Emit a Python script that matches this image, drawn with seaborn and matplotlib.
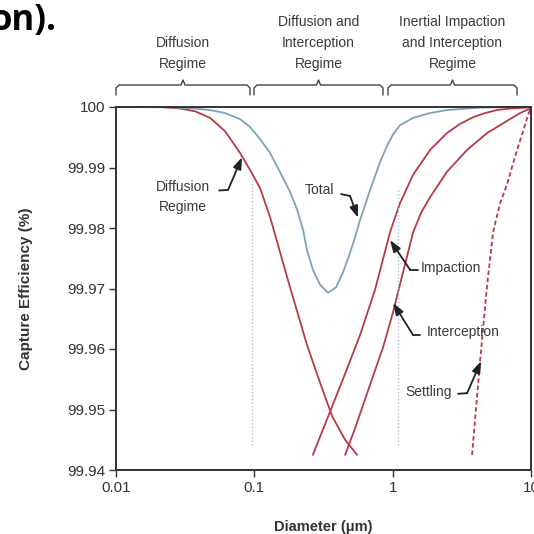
import numpy as np
import pandas as pd
import matplotlib
matplotlib.use("Agg")
import matplotlib.pyplot as plt
from matplotlib.lines import Line2D
from matplotlib.ticker import NullLocator
import seaborn as sns

# Curve values (diameter in um, capture efficiency in %)
diff_d = [0.01, 0.0208, 0.0290, 0.0372, 0.0479, 0.0614, 0.0789, 0.0931, 0.110, 0.130,
          0.175, 0.240, 0.299, 0.365, 0.453, 0.553]
diff_e = [100.0, 100.0, 99.99975, 99.9993, 99.9982, 99.9960, 99.9924, 99.9896, 99.9866,
          99.9818, 99.9714, 99.9607, 99.9544, 99.9489, 99.9450, 99.9425]

total_d = [0.01, 0.0245, 0.0343, 0.0479, 0.0614, 0.0789, 0.0931, 0.110, 0.130, 0.153,
           0.181, 0.204, 0.225, 0.240, 0.265, 0.299, 0.341, 0.390, 0.438, 0.492, 0.535,
           0.581, 0.687, 0.811, 0.912, 1.007, 1.130, 1.406, 1.864, 2.47, 4.28, 10.0]
total_e = [100.0, 99.99995, 99.9998, 99.9995, 99.9990, 99.9980, 99.9967, 99.9947, 99.9924,
           99.9893, 99.9860, 99.9830, 99.9797, 99.9764, 99.9731, 99.9706, 99.9693, 99.9702,
           99.9727, 99.9759, 99.9785, 99.9813, 99.9863, 99.9909, 99.9936, 99.9955, 99.9970,
           99.9982, 99.9990, 99.9995, 99.9999, 100.0]

imp_d = [0.265, 0.352, 0.453, 0.581, 0.746, 0.957, 1.130, 1.406, 1.864, 2.47, 3.07, 3.81,
         4.66, 5.69, 7.06, 8.77, 10.0]
imp_e = [99.9425, 99.9496, 99.9559, 99.9623, 99.9698, 99.9793, 99.9841, 99.9888, 99.9929,
         99.9957, 99.9972, 99.9983, 99.9990, 99.9995, 99.99975, 99.99987, 100.0]

int_d = [0.453, 0.535, 0.621, 0.721, 0.853, 1.007, 1.189, 1.406, 1.604, 1.864, 2.47, 3.45,
         4.82, 6.71, 8.34, 10.0]
int_e = [99.9425, 99.9469, 99.9512, 99.9555, 99.9603, 99.9661, 99.9727, 99.9793, 99.9825,
         99.9851, 99.9893, 99.9929, 99.9957, 99.9977, 99.9990, 99.9998]

set_d = [3.75, 4.28, 4.82, 5.32, 5.98, 6.71, 7.93, 8.91, 9.53, 10.0]
set_e = [99.9425, 99.9579, 99.9706, 99.9793, 99.9841, 99.9872, 99.9929, 99.9965, 99.9987,
         100.0]

regime_d = [0.096, 1.094]
regime_top = [99.9879, 99.9866]
regime_bottom = 99.9441

xticks = [0.01, 0.1, 1, 10]
xtick_labels = ["0.01", "0.1", "1", "10"]
yticks = [99.94, 99.95, 99.96, 99.97, 99.98, 99.99, 100.0]
ytick_labels = ["99.94", "99.95", "99.96", "99.97", "99.98", "99.99", "100"]

regime_names = ["Diffusion\nRegime", "Diffusion and\nInterception\nRegime",
                "Inertial Impaction\nand Interception\nRegime"]

sns.set_style("ticks")
plt.rcParams["font.family"] = ["Liberation Sans", "DejaVu Sans"]

RED = "#b73a44"
BLUE = "#7ba3bb"
DARK = "#333333"

W = H = 534
fig = plt.figure(figsize=(W / 100, H / 100), dpi=100)
ax = fig.add_axes([116 / W, 1 - 470 / H, (531 - 116) / W, (470 - 107) / H])

for xd, ye, col, ls in [(diff_d, diff_e, RED, "-"), (total_d, total_e, BLUE, "-"),
                        (imp_d, imp_e, RED, "-"), (int_d, int_e, RED, "-"),
                        (set_d, set_e, RED, (0, (2.5, 1.5)))]:
    df = pd.DataFrame({"d": xd, "e": ye})
    sns.lineplot(data=df, x="d", y="e", ax=ax, color=col, lw=1.3, linestyle=ls,
                 sort=False, estimator=None, clip_on=False)

for xd, yt in zip(regime_d, regime_top):
    ax.plot([xd, xd], [regime_bottom, yt], color="#a9c3d3", lw=1.0, ls=(0, (1, 1.5)))

ax.set_xscale("log")
ax.set_xlim(0.01, 10)
ax.set_ylim(99.94, 100.0)
ax.set_xticks(xticks)
ax.set_xticklabels(xtick_labels)
ax.xaxis.set_minor_locator(NullLocator())
ax.set_yticks(yticks)
ax.set_yticklabels(ytick_labels)
ax.tick_params(axis="both", labelsize=11, colors=DARK, length=5, width=1.0, pad=3)
for s in ax.spines.values():
    s.set_color(DARK)
    s.set_linewidth(1.4)
ax.set_xlabel("Diameter (\u03bcm)", fontsize=10.5, fontweight="bold", color=DARK, labelpad=18)
ax.set_ylabel("Capture Efficiency (%)", fontsize=11, fontweight="bold", color=DARK, labelpad=24)

# annotations: text, tail start, corner, arrow head
notes = [
    ("Diffusion\nRegime", (0.0303, 99.9851), (0.0556, 99.9862), (0.0646, 99.9863), (0.0815, 99.9917)),
    ("Total", (0.298, 99.9863), (0.424, 99.9856), (0.492, 99.9853), (0.562, 99.9817)),
    ("Impaction", (2.64, 99.9734), (1.53, 99.9731), (1.336, 99.9731), (0.957, 99.9780)),
    ("Interception", (3.23, 99.9628), (1.58, 99.9623), (1.406, 99.9623), (1.007, 99.9676)),
    ("Settling", (1.83, 99.9529), (2.97, 99.9526), (3.45, 99.9527), (4.36, 99.9580)),
]
for txt, tpos, tail, corner, head in notes:
    ax.text(tpos[0], tpos[1], txt, ha="center", va="center", fontsize=10, color="#3a3a3a",
            linespacing=1.5)
    ax.plot([tail[0], corner[0]], [tail[1], corner[1]], color="#222222", lw=1.3)
    ax.annotate("", xy=head, xytext=corner,
                arrowprops=dict(arrowstyle="-|>,head_length=0.7,head_width=0.25",
                                color="#222222", lw=1.3, shrinkA=0, shrinkB=0,
                                mutation_scale=10))

# regime braces above the plot (figure pixel coordinates)
def px(x, y):
    return x / W, 1 - y / H

braces = [(116, 250), (254, 383), (388, 517)]
for (x0, x1), name in zip(braces, regime_names):
    xm = (x0 + x1) / 2
    pts = [(x0, 95), (x0, 88), (x0 + 3, 85), (xm - 2, 85), (xm, 80), (xm + 2, 85),
           (x1 - 3, 85), (x1, 88), (x1, 95)]
    xs, ys = zip(*[px(*p) for p in pts])
    fig.add_artist(Line2D(xs, ys, color="#444444", lw=1.0))
    fig.text(xm / W, 1 - 71 / H, name, ha="center", va="bottom", fontsize=10,
             color="#3a3a3a", linespacing=1.65)

# remnant of a slide title cut off at the top left
fig.text(56 / W, 1 - 30 / H, "on).", ha="right", va="baseline", fontsize=25,
         fontweight="bold", family=["Open Sans", "DejaVu Sans"], color="black")

fig.savefig("out.png", dpi=100, facecolor="white")
